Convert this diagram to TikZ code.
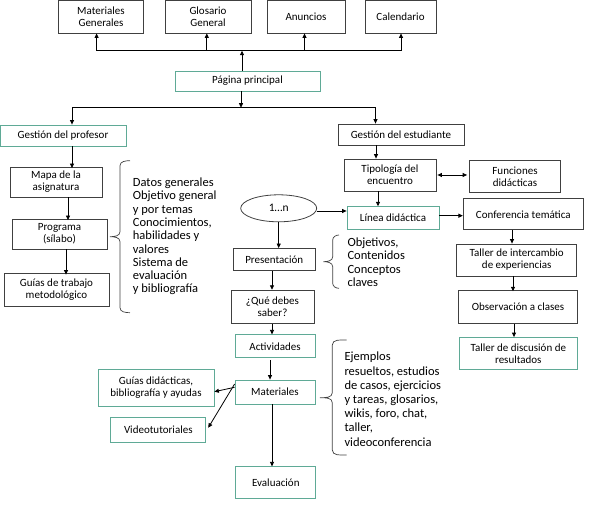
\documentclass[tikz,border=0pt]{standalone}
\usepackage{fontspec}
\setmainfont{Carlito}
\usetikzlibrary{arrows.meta,shapes.geometric}
\definecolor{boxgreen}{RGB}{95,170,150}
\definecolor{boxgray}{RGB}{64,64,64}
\newcommand\mybrace[6]{% spine x, tip x, hook x, top y, mid y, bottom y
  \draw[brace] (#3,#4) to[out=180,in=90] (#1,#4+5) -- (#1,#5-5) to[out=-90,in=0] (#2,#5) to[out=0,in=90] (#1,#5+5) -- (#1,#6-5) to[out=-90,in=180] (#3,#6);}
\begin{document}
\begin{tikzpicture}[x=1pt,y=-1pt,
  base/.style={draw, line width=0.8pt, inner sep=1pt, align=center, font=\fontsize{11}{12}\selectfont, text=black},
  gbox/.style={base, draw=boxgray},
  grbox/.style={base, draw=boxgreen},
  arr/.style={line width=0.8pt, -{Triangle[length=4.5pt,width=4pt]}},
  dbl/.style={line width=0.8pt, {Triangle[length=4.5pt,width=4pt]}-{Triangle[length=4.5pt,width=4pt]}},
  ln/.style={line width=0.8pt},
  brace/.style={line width=0.7pt, draw=boxgray},
  btext/.style={align=left, anchor=west, inner sep=0pt, text=black, font=\fontsize{12.5}{13.3}\selectfont}]
\useasboundingbox (0,0) rectangle (589,505);
% top row
\node[gbox, minimum width=85pt, minimum height=33pt] (mat) at (101,16.5) {Materiales\\Generales};
\node[gbox, minimum width=86pt, minimum height=33pt] (glo) at (208,16.5) {Glosario\\General};
\node[gbox, minimum width=78pt, minimum height=33pt] (anu) at (306,16.5) {Anuncios};
\node[gbox, minimum width=71pt, minimum height=33pt] (cal) at (400.5,16.5) {Calendario};
\node[grbox, minimum width=145pt, minimum height=20pt] (pag) at (247.5,81) {Página principal};
% professor side
\node[grbox, minimum width=126pt, minimum height=21pt] (gprof) at (63,135.5) {Gestión del profesor};
\node[gbox, minimum width=92pt, minimum height=30pt] (mapa) at (56,182) {Mapa de la\\asignatura};
\node[gbox, minimum width=95pt, minimum height=30pt] (prog) at (59.5,234) {Programa\\(sílabo)};
\node[gbox, minimum width=105pt, minimum height=33pt] (guias) at (56.5,290) {Guías de trabajo\\metodológico};
% student side
\node[gbox, minimum width=126pt, minimum height=21pt] (gest) at (401,134.5) {Gestión del estudiante};
\node[gbox, minimum width=92pt, minimum height=32pt] (tipo) at (390,175) {Tipología del\\encuentro};
\node[gbox, minimum width=91pt, minimum height=32pt] (fun) at (515,176.7) {Funciones\\didácticas};
\node[grbox, minimum width=92pt, minimum height=22.6pt] (linea) at (393,218) {Línea didáctica};
\node[gbox, minimum width=120pt, minimum height=31pt] (conf) at (523.3,214.3) {Conferencia temática};
\node[gbox, minimum width=120pt, minimum height=32pt] (tal1) at (516.7,260) {Taller de intercambio\\de experiencias};
\node[gbox, minimum width=119pt, minimum height=33pt] (obs) at (518,306.7) {Observación a clases};
\node[grbox, minimum width=118pt, minimum height=32pt] (tal2) at (518.3,353.5) {Taller de discusión de\\resultados};
% middle column
\node[ellipse, draw=boxgray, line width=0.8pt, minimum width=76pt, minimum height=27pt, inner sep=0pt, text=black, font=\fontsize{11.5}{12}\selectfont] (ell) at (278.7,208.3) {1…n};
\node[gbox, minimum width=82pt, minimum height=22pt] (pres) at (274.2,259.5) {Presentación};
\node[gbox, minimum width=83pt, minimum height=33pt] (que) at (272.5,306.7) {¿Qué debes\\saber?};
\node[grbox, minimum width=80pt, minimum height=23pt] (act) at (275,346.3) {Actividades};
\node[grbox, minimum width=80pt, minimum height=24pt] (mats) at (275,392) {Materiales};
\node[grbox, minimum width=116pt, minimum height=37pt] (gdid) at (156,387.5) {Guías didácticas,\\bibliografía y ayudas};
\node[grbox, minimum width=95pt, minimum height=25pt] (vid) at (158.3,429.8) {Videotutoriales};
\node[grbox, minimum width=80pt, minimum height=32pt] (eval) at (275.8,482.8) {Evaluación};
% bracket texts
\node[btext] (t1) at (132.7,236.5) {Datos generales\\Objetivo general\\y por temas\\Conocimientos,\\habilidades y\\valores\\Sistema de\\evaluación\\y bibliografía};
\node[btext] (t2) at (347.3,262.3) {Objetivos,\\Contenidos\\Conceptos\\claves};
\node[btext, font=\fontsize{12.5}{14.2}\selectfont] (t3) at (344.3,399.2) {Ejemplos\\resueltos, estudios\\de casos, ejercicios\\y tareas, glosarios,\\wikis, foro, chat,\\taller,\\videoconferencia};
% braces
\mybrace{120}{110}{130}{160.7}{236.7}{312.7}
\mybrace{332.7}{323.3}{339}{235}{261.7}{288.3}
\mybrace{332.3}{320}{346.7}{340}{397.7}{455}
% top bus
\coordinate (tb) at (242,50.7);
\coordinate (tb1) at (96.6,50.7);
\coordinate (tb2) at (206.8,50.7);
\coordinate (tb3) at (304.5,50.7);
\coordinate (tb4) at (401,50.7);
\draw[arr] (pag.north -| tb) -- (tb);
\draw[ln] (tb1) -- (tb4);
\draw[arr] (tb1) -- (tb1 |- mat.south);
\draw[arr] (tb2) -- (tb2 |- glo.south);
\draw[arr] (tb3) -- (tb3 |- anu.south);
\draw[arr] (tb4) -- (tb4 |- cal.south);
% lower bus
\coordinate (lb) at (241,107.7);
\coordinate (lb1) at (72,107.7);
\coordinate (lb2) at (375.5,107.7);
\draw[arr] (pag.south -| lb) -- (lb);
\draw[ln] (lb1) -- (lb2);
\draw[arr] (lb1) -- (lb1 |- gprof.north);
\draw[arr] (lb2) -- (lb2 |- gest.north);
% professor chain
\coordinate (p1) at (72,0);
\coordinate (p2) at (68,0);
\coordinate (p3) at (66,0);
\draw[arr] (gprof.south -| p1) -- ([yshift=-1.5pt]mapa.north -| p1);
\draw[arr] (mapa.south -| p2) -- ([yshift=-1.5pt]prog.north -| p2);
\draw[arr] (prog.south -| p3) -- ([yshift=-1.5pt]guias.north -| p3);
% student chain
\coordinate (s1) at (376,0);
\coordinate (s2) at (378,0);
\draw[arr] (gest.south -| s1) -- (tipo.north -| s1);
\draw[arr] (tipo.south -| s2) -- (linea.north -| s2);
\draw[dbl] ([xshift=1pt]tipo.east) -- ([xshift=-2pt]tipo.east -| fun.west);
\coordinate (e1) at (0,211);
\draw[arr] (ell.east |- e1) -- (linea.west |- e1);
\coordinate (e2) at (0,215.7);
\draw[arr] (linea.east |- e2) -- (conf.west |- e2);
\coordinate (c1) at (512,0);
\coordinate (c2) at (513,0);
\coordinate (c3) at (514,0);
\draw[arr] (conf.south -| c1) -- (tal1.north -| c1);
\draw[arr] (tal1.south -| c2) -- ([yshift=-1.5pt]obs.north -| c2);
\draw[arr] (obs.south -| c3) -- (tal2.north -| c3);
% middle chain
\coordinate (m2) at (272,0);
\coordinate (m3) at (270,0);
\draw[arr] (ell.south) -- (pres.north -| ell.south);
\draw[arr] (pres.south -| m2) -- (que.north -| m2);
\draw[arr] (que.south -| m2) -- (act.north -| m2);
\draw[arr] ([yshift=-2pt]act.south -| m3) -- (mats.north -| m3);
\draw[arr] (mats.south -| m2) -- (eval.north -| m2);
\draw[arr] ([yshift=4.7pt]mats.west) -- ([yshift=-4.2pt]gdid.east);
\draw[arr] ([yshift=8pt]mats.west) -- ([xshift=2pt,yshift=2pt]vid.east);
\end{tikzpicture}
\end{document}
